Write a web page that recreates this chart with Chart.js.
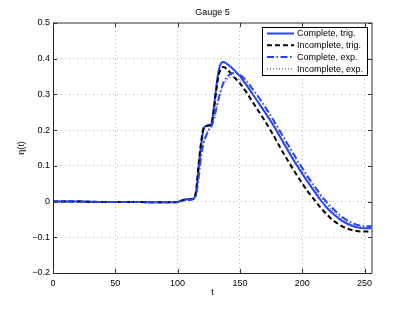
<!DOCTYPE html>
<html>
<head>
<meta charset="utf-8">
<script src="https://cdn.jsdelivr.net/npm/chart.js"></script>
<style>
  html, body { margin: 0; padding: 0; background: #fff; }
  canvas { display: block; }
</style>
</head>
<body>
<canvas id="gauge" width="411" height="309"></canvas>
<script>
// time samples shared by all four series
const tGrid = [0, 20, 40, 60, 80, 95, 100, 103, 106, 110, 113, 115, 117, 119, 121, 123, 125, 127, 129, 131, 133, 135, 137, 140, 143, 146, 150, 155, 160, 165, 170, 175, 180, 185, 190, 195, 200, 205, 210, 215, 220, 225, 230, 235, 240, 245, 250, 256];

const completeTrig = [0, 0, -0.001, -0.001, -0.002, -0.002, -0.001, 0.003, 0.006, 0.007, 0.009, 0.03, 0.1, 0.16, 0.205, 0.212, 0.214, 0.217, 0.26, 0.32, 0.368, 0.388, 0.391, 0.384, 0.376, 0.366, 0.351, 0.328, 0.302, 0.276, 0.25, 0.224, 0.195, 0.164, 0.134, 0.105, 0.078, 0.052, 0.027, 0.003, -0.018, -0.035, -0.049, -0.06, -0.068, -0.073, -0.075, -0.074];
const incompleteTrig = [0, 0, -0.001, -0.001, -0.002, -0.002, -0.001, 0.002, 0.005, 0.006, 0.008, 0.035, 0.11, 0.17, 0.207, 0.211, 0.213, 0.216, 0.255, 0.31, 0.355, 0.373, 0.377, 0.369, 0.358, 0.346, 0.331, 0.307, 0.28, 0.253, 0.226, 0.197, 0.166, 0.135, 0.106, 0.078, 0.051, 0.026, 0.004, -0.018, -0.037, -0.053, -0.065, -0.074, -0.08, -0.083, -0.084, -0.083];
const completeExp = [0, 0, -0.001, -0.001, -0.002, -0.002, -0.001, 0.002, 0.004, 0.005, 0.008, 0.02, 0.07, 0.13, 0.165, 0.185, 0.2, 0.21, 0.23, 0.26, 0.29, 0.315, 0.335, 0.35, 0.358, 0.36, 0.355, 0.339, 0.316, 0.292, 0.266, 0.239, 0.21, 0.18, 0.151, 0.122, 0.094, 0.067, 0.042, 0.018, -0.003, -0.021, -0.037, -0.05, -0.06, -0.066, -0.069, -0.069];
const incompleteExp = [0, 0, -0.001, -0.001, -0.002, -0.002, -0.001, 0.002, 0.004, 0.005, 0.008, 0.02, 0.075, 0.135, 0.17, 0.19, 0.203, 0.212, 0.23, 0.258, 0.285, 0.31, 0.328, 0.343, 0.349, 0.348, 0.34, 0.324, 0.302, 0.279, 0.254, 0.227, 0.198, 0.169, 0.14, 0.112, 0.085, 0.059, 0.035, 0.012, -0.009, -0.027, -0.042, -0.055, -0.064, -0.07, -0.072, -0.072];

const seriesLabels = ['Complete, trig.', 'Incomplete, trig.', 'Complete, exp.', 'Incomplete, exp.'];
const xTicks = [0, 50, 100, 150, 200, 250];
const yTicks = [-0.2, -0.1, 0, 0.1, 0.2, 0.3, 0.4, 0.5];

const FONT = '"Liberation Sans", Arial, sans-serif';
const BLUE = '#2244ff';

function toPoints(ys) {
  return tGrid.map((t, i) => ({ x: t, y: ys[i] }));
}

// white background + box, inward ticks, titles and legend
const matlabFrame = {
  id: 'matlabFrame',
  beforeDraw(chart) {
    const ctx = chart.ctx;
    ctx.save();
    ctx.fillStyle = '#fff';
    ctx.fillRect(0, 0, chart.width, chart.height);
    ctx.restore();
  },
  afterDraw(chart) {
    const ctx = chart.ctx;
    const a = chart.chartArea;
    const xs = chart.scales.x, ys = chart.scales.y;
    ctx.save();

    // box
    ctx.strokeStyle = '#777';
    ctx.lineWidth = 1.5;
    ctx.beginPath();
    ctx.moveTo(a.left, a.top); ctx.lineTo(a.right, a.top); ctx.lineTo(a.right, a.bottom);
    ctx.stroke();
    ctx.strokeStyle = '#222';
    ctx.lineWidth = 1;
    ctx.beginPath();
    ctx.moveTo(a.left + 0.5, a.top); ctx.lineTo(a.left + 0.5, a.bottom + 0.5); ctx.lineTo(a.right, a.bottom + 0.5);
    ctx.stroke();

    // inward tick marks
    ctx.strokeStyle = '#333';
    ctx.beginPath();
    xTicks.forEach(v => {
      const px = Math.round(xs.getPixelForValue(v)) + 0.5;
      ctx.moveTo(px, a.bottom); ctx.lineTo(px, a.bottom - 4);
      ctx.moveTo(px, a.top); ctx.lineTo(px, a.top + 4);
    });
    yTicks.forEach(v => {
      const py = Math.round(ys.getPixelForValue(v)) + 0.5;
      ctx.moveTo(a.left, py); ctx.lineTo(a.left + 4, py);
      ctx.moveTo(a.right, py); ctx.lineTo(a.right - 4, py);
    });
    ctx.stroke();

    // title and axis labels
    ctx.fillStyle = '#000';
    ctx.font = '9px ' + FONT;
    ctx.textAlign = 'center';
    ctx.textBaseline = 'middle';
    ctx.fillText('Gauge 5', (a.left + a.right) / 2, 13);
    ctx.fillText('t', (a.left + a.right) / 2, 293);
    ctx.save();
    ctx.translate(22, (a.top + a.bottom) / 2);
    ctx.rotate(-Math.PI / 2);
    ctx.fillText('η(t)', 0, 0);
    ctx.restore();

    // legend box
    const lx = 262.5, ly = 27.5, lw = 105, lh = 48;
    ctx.fillStyle = '#fff';
    ctx.fillRect(lx, ly, lw, lh);
    ctx.strokeStyle = '#000';
    ctx.lineWidth = 1;
    ctx.strokeRect(lx, ly, lw, lh);
    ctx.textAlign = 'left';
    chart.data.datasets.forEach((ds, i) => {
      const y = 33.5 + i * 11.8;
      ctx.save();
      ctx.strokeStyle = ds.borderColor;
      ctx.lineWidth = ds.borderWidth;
      ctx.setLineDash(ds.borderDash || []);
      ctx.beginPath();
      ctx.moveTo(267, y); ctx.lineTo(294, y);
      ctx.stroke();
      ctx.restore();
      ctx.fillStyle = '#000';
      ctx.fillText(ds.label, 297, y + 0.5);
    });
    ctx.restore();
  }
};

const styles = [
  { borderColor: BLUE, borderWidth: 2, borderDash: [] },
  { borderColor: '#000', borderWidth: 2, borderDash: [5, 3] },
  { borderColor: BLUE, borderWidth: 2, borderDash: [7, 2.5, 1.5, 2.5] },
  { borderColor: '#555', borderWidth: 1.1, borderDash: [1, 2] }
];
const seriesValues = [completeTrig, incompleteTrig, completeExp, incompleteExp];

new Chart(document.getElementById('gauge').getContext('2d'), {
  type: 'line',
  data: {
    datasets: seriesValues.map((vals, i) => Object.assign({
      label: seriesLabels[i],
      data: toPoints(vals),
      pointRadius: 0,
      fill: false,
      cubicInterpolationMode: 'monotone',
      order: 4 - i
    }, styles[i]))
  },
  options: {
    responsive: false,
    animation: false,
    devicePixelRatio: 1,
    layout: { padding: { left: 0, right: 39, top: 23, bottom: 0 } },
    plugins: { legend: { display: false }, tooltip: { enabled: false } },
    scales: {
      x: {
        type: 'linear',
        min: 0,
        max: 256,
        afterBuildTicks: s => { s.ticks = xTicks.map(v => ({ value: v })); },
        afterFit: s => { s.height = 36; },
        ticks: { font: { family: FONT, size: 9 }, color: '#000', padding: 5, maxRotation: 0, autoSkip: false },
        grid: { color: '#b8b8b8', drawTicks: false, lineWidth: 1 },
        border: { display: false, dash: [1, 3] }
      },
      y: {
        min: -0.2,
        max: 0.5,
        afterBuildTicks: s => { s.ticks = yTicks.map(v => ({ value: v })); },
        afterFit: s => { s.width = 53; },
        ticks: {
          font: { family: FONT, size: 9 }, color: '#000', padding: 3, autoSkip: false,
          callback: v => (v < 0 ? '\u2212' + String(Math.abs(v)) : String(v))
        },
        grid: { color: '#b8b8b8', drawTicks: false, lineWidth: 1 },
        border: { display: false, dash: [1, 3] }
      }
    }
  },
  plugins: [matlabFrame]
});
</script>
</body>
</html>
